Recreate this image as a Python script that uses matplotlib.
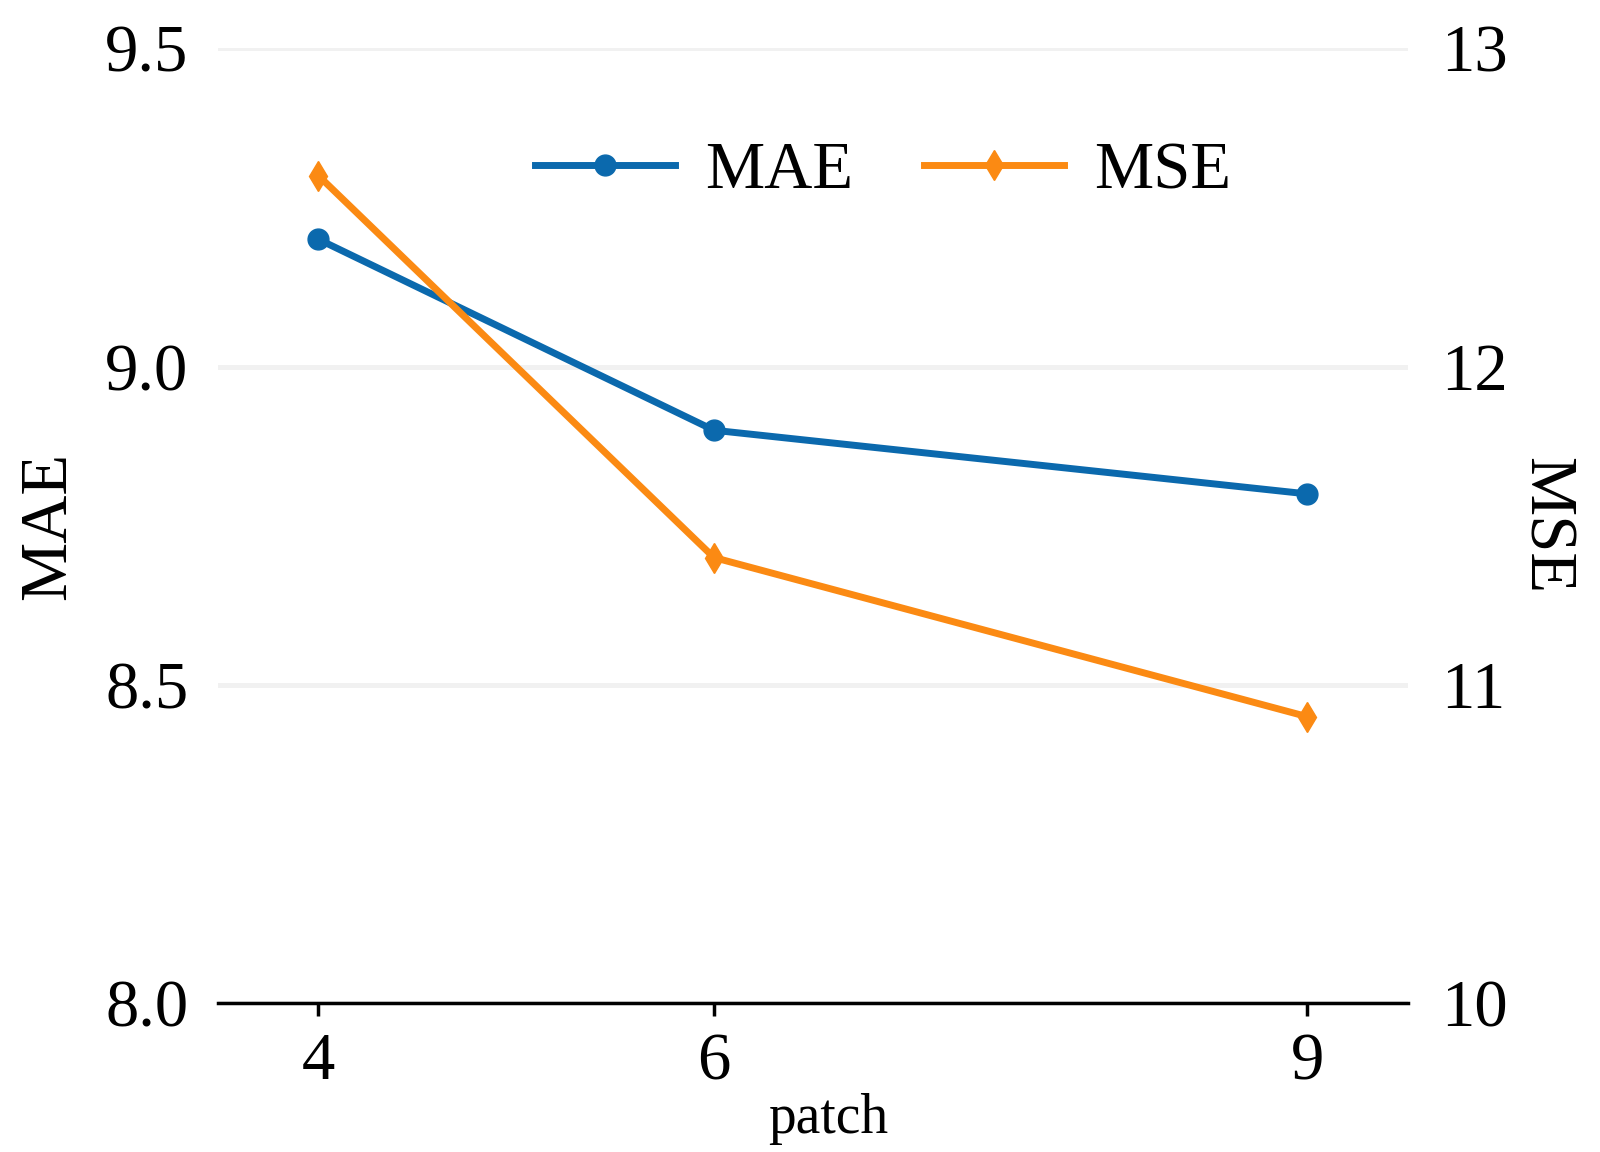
import matplotlib
matplotlib.use("Agg")
import matplotlib.pyplot as plt

patch = [4, 6, 9]
mae = [9.2, 8.9, 8.8]
mse = [12.6, 11.4, 10.9]
left_ticks = [8.0, 8.5, 9.0, 9.5]
left_labels = ["8.0", "8.5", "9.0", "9.5"]
right_ticks = [10, 11, 12, 13]
right_labels = ["10", "11", "12", "13"]

plt.rcParams['font.family'] = ['Liberation Serif', 'DejaVu Serif']

blue = '#0b69ad'
orange = '#fb8a13'

fig = plt.figure(figsize=(16, 11.52), dpi=100)
ax = fig.add_axes([0.136, 0.1293, 0.744, 0.8287])
ax2 = ax.twinx()

l1, = ax.plot(patch, mae, color=blue, lw=5, marker='o', markersize=15, label='MAE', zorder=3)
l2, = ax2.plot(patch, mse, color=orange, lw=5, marker='d', markersize=15, label='MSE', zorder=3)

ax.set_xlim(3.49, 9.51)
ax.set_ylim(8.0, 9.5)
ax2.set_ylim(10, 13)
ax.set_xticks(patch)
ax.set_xticklabels([str(p) for p in patch])
ax.set_yticks(left_ticks)
ax.set_yticklabels(left_labels)
ax2.set_yticks(right_ticks)
ax2.set_yticklabels(right_labels)

ax.grid(axis='y', color='#f1f1f1', lw=3.5, zorder=0)
ax.set_axisbelow(True)

for a in (ax, ax2):
    for s in ('top', 'left', 'right'):
        a.spines[s].set_visible(False)
    a.spines['bottom'].set_linewidth(2.5)
    a.spines['bottom'].set_color('black')
ax2.spines['bottom'].set_visible(False)

ax.tick_params(axis='x', length=9, width=2.5, pad=12, labelsize=48)
ax.tick_params(axis='y', length=0, pad=21, labelsize=48)
ax2.tick_params(axis='y', length=0, pad=24, labelsize=48)

ax.set_xlabel('patch', fontsize=40)
ax.xaxis.set_label_coords(0.513, -0.094)
ax.set_ylabel('MAE', fontsize=48)
ax.yaxis.set_label_coords(-0.116, 0.5)
ax2.set_ylabel('MSE', fontsize=48, rotation=270)
ax2.yaxis.set_label_coords(1.141, 0.5)

ax.legend([l1, l2], ['MAE', 'MSE'], loc='center', bbox_to_anchor=(0.559, 0.871),
          ncol=2, frameon=False, fontsize=48, handlelength=2.1,
          handletextpad=0.46, columnspacing=1.05)

fig.savefig('out.png', dpi=100)
